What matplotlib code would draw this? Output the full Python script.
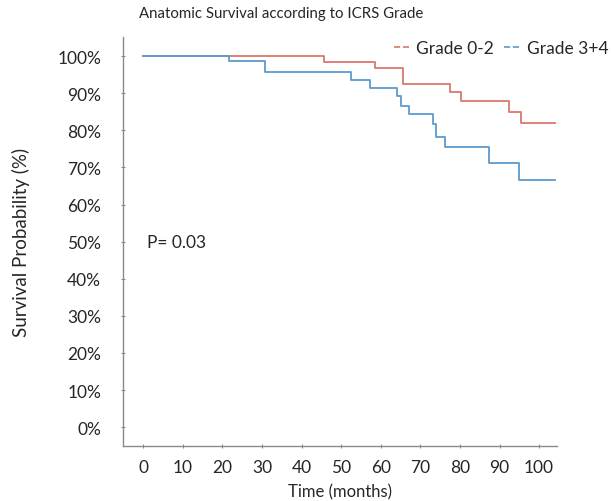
import matplotlib
matplotlib.use('Agg')
import matplotlib.pyplot as plt
from matplotlib.lines import Line2D

# Kaplan-Meier steps (time in months, survival in %)
RED_TIMES = [0, 45.6, 58.5, 65.5, 77.5, 80.3, 92.3, 95.3, 104]
RED_SURV = [100, 98.5, 96.7, 92.6, 90.2, 88.0, 85.0, 82.1, 82.1]
BLUE_TIMES = [0, 21.6, 30.7, 52.4, 57.4, 64.2, 65.0, 67.1, 73.3, 73.9, 76.2, 87.4, 95.0, 104]
BLUE_SURV = [100, 98.6, 95.6, 93.5, 91.4, 89.2, 86.6, 84.4, 81.7, 78.1, 75.4, 71.3, 66.6, 66.6]

LABELS = ['Grade 0-2', 'Grade 3+4']
X_TICKS = list(range(0, 101, 10))
Y_TICKS = list(range(0, 101, 10))

RED = '#d9776f'
BLUE = '#5b9bd0'
GRAY = '#8a8a8a'
TXT = '#262626'

plt.rcParams['font.family'] = ['Lato', 'DejaVu Sans']

fig = plt.figure(figsize=(6.12, 5.02), dpi=100)
ax = fig.add_axes([0.2005, 0.110, 0.7095, 0.814])

ax.step(RED_TIMES, RED_SURV, where='post', color=RED, lw=1.3)
ax.step(BLUE_TIMES, BLUE_SURV, where='post', color=BLUE, lw=1.3)

ax.set_xlim(-5.2, 104.5)
ax.set_ylim(-5, 105.1)
ax.set_xticks(X_TICKS)
ax.set_yticks(Y_TICKS)
ax.set_yticklabels([f'{v}%' for v in Y_TICKS])

for side in ['top', 'right']:
    ax.spines[side].set_visible(False)
for side in ['left', 'bottom']:
    ax.spines[side].set_color(GRAY)
    ax.spines[side].set_linewidth(1.0)

ax.tick_params(axis='both', direction='inout', length=3, color=GRAY, labelsize=12.5, labelcolor=TXT)
ax.tick_params(axis='y', pad=14)
ax.tick_params(axis='x', pad=8)

ax.set_xlabel('Time (months)', fontsize=12, color=TXT, labelpad=6)
ax.set_ylabel('Survival Probability (%)', fontsize=13.5, color=TXT, labelpad=20)

fig.text(0.459, 0.972, 'Anatomic Survival according to ICRS Grade', ha='center', va='center',
         fontsize=10.8, color=TXT)

ax.text(1, 50, 'P= 0.03', ha='left', va='center', fontsize=12.5, color=TXT)

handles = [Line2D([], [], color=RED, ls='--', lw=1.2), Line2D([], [], color=BLUE, ls='--', lw=1.2)]
fig.legend(handles, LABELS, loc='center right', bbox_to_anchor=(1.02, 0.903), ncol=2, frameon=False,
           handlelength=0.9, handletextpad=0.4, columnspacing=0.6, fontsize=12.5, labelcolor=TXT)

fig.savefig('out.png', dpi=100, facecolor='white')
